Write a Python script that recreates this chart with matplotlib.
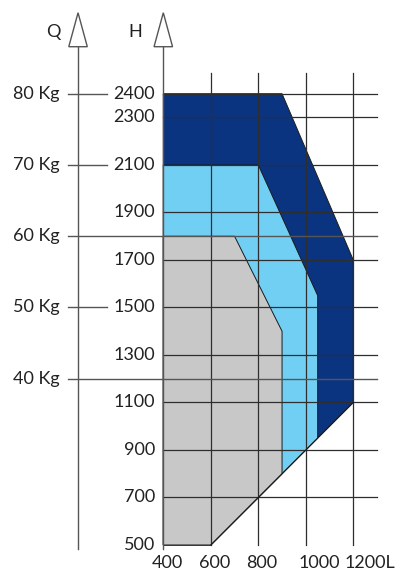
import matplotlib
matplotlib.use("Agg")
import matplotlib.pyplot as plt
from matplotlib.patches import Polygon

plt.rcParams['font.family'] = ['Lato', 'DejaVu Sans']

# data: L (x), H (y), Q (load, kg)
l_ticks = [400, 600, 800, 1000, 1200]
l_labels = ['400', '600', '800', '1000', '1200L']
h_ticks = [500, 700, 900, 1100, 1300, 1500, 1700, 1900, 2100, 2300, 2400]
q_ticks = [40, 50, 60, 70, 80]
q_to_h = 30  # 80 Kg sits level with 2400

dark_L = [400, 900, 1200, 1200, 600, 400]
dark_H = [2400, 2400, 1700, 1100, 500, 500]
light_L = [400, 800, 1050, 1050, 600, 400]
light_H = [2100, 2100, 1550, 950, 500, 500]
grey_L = [400, 700, 900, 900, 600, 400]
grey_H = [1800, 1800, 1400, 800, 500, 500]

dark_c = '#0b3480'
light_c = '#72cff4'
grey_c = '#c8c8c8'
line_c = '#2e2e2e'

fig = plt.figure(figsize=(3.96, 5.72), dpi=100)
ax = fig.add_axes([0, 0, 1, 1])
ax.set_xlim(-287.6, 1379.8)
ax.set_ylim(386.3, 2794.7)
ax.axis('off')

# filled regions
for Ls, Hs, c in [(dark_L, dark_H, dark_c), (light_L, light_H, light_c), (grey_L, grey_H, grey_c)]:
    ax.add_patch(Polygon(list(zip(Ls, Hs)), closed=True, facecolor=c,
                         edgecolor='#1a1a1a', linewidth=0.7, zorder=1))

# grid
for h in h_ticks[1:]:
    ax.plot([400, 1300], [h, h], color=line_c, lw=0.9, zorder=2)
for l in l_ticks[1:]:
    ax.plot([l, l], [500, 2487], color=line_c, lw=0.9, zorder=2)

# diagonal lower boundary
ax.plot([600, 1200], [500, 1100], color='#1a1a1a', lw=0.7, zorder=3)

# axes with open arrows
q_x = 41
axis_c = '#555555'
for x in [q_x, 400]:
    ax.plot([x, x], [483, 2598], color=axis_c, lw=1.0, zorder=2)
    ax.add_patch(Polygon([(x - 39, 2598), (x + 39, 2598), (x, 2741)], closed=True,
                         facecolor='white', edgecolor=axis_c, lw=1.0, zorder=3))
ax.text(-64, 2661, 'Q', fontsize=13, ha='center', va='center', color='#222222')
ax.text(281, 2661, 'H', fontsize=13, ha='center', va='center', color='#222222')

# Q ticks
for q in q_ticks:
    h = q * q_to_h
    x_end = 163 if h in h_ticks else 1300
    ax.plot([0, x_end], [h, h], color=axis_c, lw=1.0, zorder=2)
    ax.text(-35, h, f'{q} Kg', fontsize=13, ha='right', va='center', color='#222222')

# H tick labels
for h in h_ticks:
    ax.text(365, h, str(h), fontsize=13, ha='right', va='center', color='#222222')

# L tick labels
l_shift = [18, 16, 16, 55, 68]
for l, lab, s in zip(l_ticks, l_labels, l_shift):
    ax.text(l + s, 424, lab, fontsize=13, ha='center', va='center', color='#222222')

fig.savefig('out.png', dpi=100)
